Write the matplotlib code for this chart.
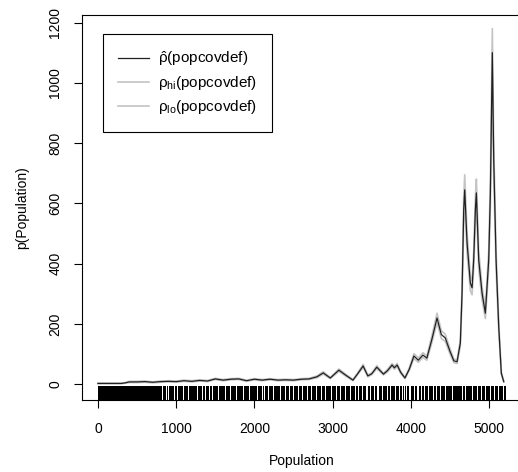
import matplotlib
matplotlib.use("Agg")
from matplotlib import pyplot as plt

plt.rcParams['font.family'] = ['Liberation Sans', 'DejaVu Sans']
plt.rcParams['mathtext.fontset'] = 'custom'
plt.rcParams['mathtext.rm'] = 'Liberation Sans'
plt.rcParams['mathtext.it'] = 'Liberation Sans'

# density estimate
pop = [0, 100, 200, 300, 350, 400, 500, 600, 700, 800,
       900, 1000, 1100, 1200, 1300, 1400, 1500, 1600, 1700, 1800,
       1900, 2000, 2100, 2200, 2300, 2400, 2500, 2600, 2700, 2800,
       2880, 2970, 3080, 3170, 3260, 3320, 3390, 3450, 3500, 3565,
       3650, 3700, 3760, 3790, 3825, 3870, 3925, 3980, 4040, 4095,
       4155, 4205, 4270, 4335, 4390, 4440, 4500, 4550, 4591, 4633,
       4655, 4676, 4689, 4719, 4761, 4783, 4804, 4825, 4838, 4868,
       4911, 4953, 4996, 5017, 5042, 5060, 5090, 5124, 5157, 5188]
rho = [3, 3, 3, 3, 5, 8, 8, 9, 7, 9,
       10, 9, 12, 10, 13, 11, 18, 14, 17, 18,
       12, 17, 14, 17, 14, 15, 14, 17, 18, 25,
       38, 21, 47, 30, 14, 35, 61, 28, 35, 57,
       34, 45, 64, 55, 64, 40, 21, 50, 94, 80,
       97, 87, 150, 220, 165, 154, 110, 78, 75, 137,
       302, 578, 645, 469, 336, 320, 413, 578, 635, 413,
       302, 236, 413, 635, 1100, 744, 413, 191, 37, 9]
rho_hi = [4, 4, 4, 4, 6, 10, 10, 11, 8, 11,
          12, 11, 14, 12, 15, 13, 20, 16, 19, 20,
          14, 19, 16, 19, 16, 17, 16, 19, 20, 28,
          42, 23, 51, 33, 16, 38, 66, 31, 38, 62,
          37, 49, 69, 60, 69, 44, 23, 55, 102, 87,
          105, 94, 162, 236, 178, 166, 119, 84, 81, 148,
          324, 620, 695, 503, 360, 343, 443, 620, 681, 443,
          324, 254, 443, 681, 1180, 797, 443, 205, 41, 11]
rho_lo = [2, 2, 2, 2, 4, 6, 6, 7, 5, 7,
          8, 7, 10, 8, 11, 9, 16, 12, 15, 16,
          10, 15, 12, 15, 12, 13, 12, 15, 16, 22,
          34, 19, 43, 27, 12, 32, 56, 25, 32, 52,
          31, 41, 59, 50, 59, 36, 19, 46, 86, 73,
          89, 80, 139, 204, 152, 142, 101, 72, 69, 126,
          280, 537, 599, 435, 311, 297, 383, 537, 590, 383,
          280, 218, 383, 590, 1022, 691, 383, 177, 33, 7]

# rug of observations: solid from rug_start to rug_end, with thin white gaps
rug_start, rug_end = 0, 5215
rug_gaps = [830, 880, 905, 975, 1020, 1090, 1155, 1275, 1340, 1370,
            1430, 1465, 1540, 1635, 1690, 1775, 1855, 1940, 2035, 2100,
            2125, 2180, 2245, 2335, 2395, 2445, 2500, 2560, 2620, 2680,
            2735, 2790, 2860, 2910, 2990, 3050, 3100, 3160, 3225, 3290,
            3330, 3380, 3440, 3480, 3530, 3580, 3640, 3700, 3745, 3800,
            3850, 3895, 3915, 3945, 3990, 4050, 4080, 4100, 4140, 4180,
            4230, 4290, 4330, 4380, 4440, 4530, 4660, 4700, 4790, 4850,
            4900, 4950, 5020, 5070, 5120, 5185]
gap_w = 14

fig = plt.figure(figsize=(5.18, 4.72), dpi=100)
ax = fig.add_axes([0.1577, 0.1525, 0.848, 0.8164])

ax.plot(pop, rho_hi, color='#c4c4c4', lw=1.2, label=r'$\rho_{hi}$(popcovdef)', zorder=2)
ax.plot(pop, rho_lo, color='#c4c4c4', lw=1.2, label=r'$\rho_{lo}$(popcovdef)', zorder=2)
ax.plot(pop, rho, color='#202020', lw=0.9, label=r'$\hat{\rho}$(popcovdef)', zorder=3)

blocks = []
left = rug_start
for g in rug_gaps:
    blocks.append((left, g - gap_w / 2 - left))
    left = g + gap_w / 2
blocks.append((left, rug_end - left))
ax.broken_barh(blocks, (0, 0.037), facecolors='black', edgecolor='none',
               transform=ax.get_xaxis_transform())

ax.set_xlim(-208, 5408)
ax.set_ylim(-52, 1226)
ax.set_xticks([0, 1000, 2000, 3000, 4000, 5000])
ax.set_yticks([0, 200, 400, 600, 800, 1000, 1200])
for lbl in ax.get_yticklabels():
    lbl.set_rotation(90)
    lbl.set_va('center')
ax.tick_params(direction='out', length=6, width=0.8, labelsize=10, pad=8)
ax.tick_params(axis='x', pad=10)
ax.spines['right'].set_visible(False)
for s in ['left', 'bottom', 'top']:
    ax.spines[s].set_linewidth(0.8)

ax.set_xlabel('Population', fontsize=10, labelpad=13)
ax.set_ylabel('p(Population)', fontsize=10, labelpad=14)

handles, labels = ax.get_legend_handles_labels()
order = [2, 0, 1]
leg = ax.legend([handles[i] for i in order], [labels[i] for i in order],
                loc='upper left', bbox_to_anchor=(0.048, 0.95), borderaxespad=0,
                fancybox=False, framealpha=1, edgecolor='black', fontsize=11,
                handlelength=2.0, handletextpad=0.6, labelspacing=0.4, borderpad=1.0)
leg.get_frame().set_linewidth(0.8)

fig.savefig('out.png', dpi=100)
